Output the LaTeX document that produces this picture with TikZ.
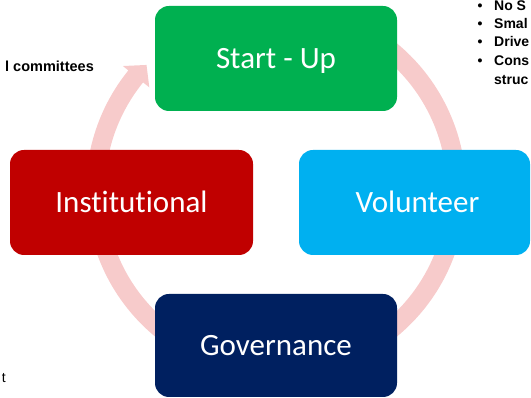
\documentclass[tikz,border=0pt]{standalone}
\usepackage{fontspec}
\setmainfont{Carlito}[Ligatures={NoCommon}]
\newfontfamily\sidefont{Liberation Sans}
\definecolor{arcpink}{RGB}{247,203,203}
\definecolor{cgreen}{RGB}{0,176,80}
\definecolor{cred}{RGB}{192,0,0}
\definecolor{cblue}{RGB}{0,176,240}
\definecolor{cnavy}{RGB}{0,32,96}
\tikzset{
  stagebox/.style={draw=none, rounded corners=14pt, inner sep=0pt,
    text=white, font=\fontsize{31}{37}\selectfont,
    text height=20pt, text depth=0pt, align=center},
  sidetext/.style={font=\sidefont\bfseries\fontsize{14}{16}\selectfont, inner sep=0pt, text=black},
}
\begin{document}
\begin{tikzpicture}[x=1pt,y=1pt]
\useasboundingbox (0,0) rectangle (531,398);
\begin{scope}
\clip (0,0) rectangle (531,398);
% circular arrow
\coordinate (ctr) at (276,208);
\fill[arcpink, shift={(ctr)}]
  (75:190) arc[start angle=75, end angle=-219, radius=190]
  -- (-219:197) -- (-224:180) -- (-219:163) -- (-219:171)
  arc[start angle=-219, end angle=75, radius=171] -- cycle;
% boxes
\node[stagebox, fill=cgreen, minimum width=242pt, minimum height=105pt] (startup) at (276,339.5) {Start - Up};
\node[stagebox, fill=cred, minimum width=243pt, minimum height=105pt] (inst) at (131.5,195.5) {Institutional};
\node[stagebox, fill=cblue, minimum width=231pt, minimum height=105pt] (vol) at (414.5,195.5) {\hspace*{6pt}Volunteer};
\node[stagebox, fill=cnavy, minimum width=242pt, minimum height=103pt] (gov) at (276,52.5) {Governance};
% side texts
\node[sidetext, anchor=base west, font=\sidefont\bfseries\fontsize{14.5}{17}\selectfont] (comm) at (5,326) {l committees};
\node[sidetext, anchor=base east, font=\sidefont\fontsize{14}{17}\selectfont] (tt) at (6,15) {t};
\foreach \yy/\txt [count=\i] in {387.5/No S, 369.5/Smal, 351/Drive, 332/Cons} {
  \node[sidetext, anchor=base] (b\i) at (480,\yy) {•};
  \node[sidetext, anchor=base west] (l\i) at (494,\yy) {\txt};
}
\node[sidetext, anchor=base west] (l5) at (494,313) {struc};
\end{scope}
\end{tikzpicture}
\end{document}
